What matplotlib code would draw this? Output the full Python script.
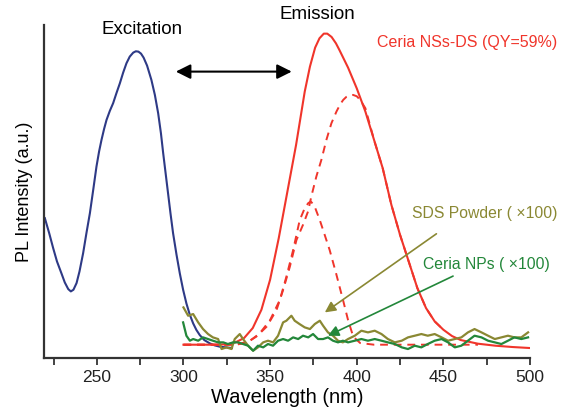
import matplotlib
matplotlib.use("Agg")
import matplotlib.pyplot as plt

plt.rcParams['font.family'] = ['Liberation Sans', 'DejaVu Sans']

# excitation spectrum (blue)
exc_wl = [220, 222.5, 224.8, 227, 229.6, 231.5, 233.5, 235, 236.5, 238.3, 240, 242.1,
          244, 246, 248, 249.8, 251.3, 252.7, 254.2, 255.6, 257.5, 259.4, 261.3, 263.3,
          265.2, 267.1, 269, 271, 272.5, 274, 275.5, 277, 279, 281.5, 283.5, 285.4,
          287, 288.3, 289.7, 291.1, 292.5, 294, 296, 297.9, 299.8, 301.7, 303.6,
          305.6, 307.5, 309.4, 312, 315.2, 318, 321, 324.5, 328]
exc_int = [0.42, 0.375, 0.33, 0.29, 0.254, 0.227, 0.207, 0.200, 0.205, 0.225, 0.26,
           0.315, 0.375, 0.435, 0.508, 0.575, 0.62, 0.655, 0.688, 0.715, 0.742, 0.765,
           0.795, 0.825, 0.857, 0.885, 0.905, 0.917, 0.921, 0.92, 0.914, 0.902, 0.878,
           0.835, 0.79, 0.735, 0.675, 0.615, 0.555, 0.495, 0.435, 0.375, 0.31, 0.254,
           0.205, 0.164, 0.131, 0.104, 0.084, 0.069, 0.054, 0.044, 0.038, 0.034, 0.032,
           0.03]

# emission of Ceria NSs-DS (solid red)
em_wl = [300, 310, 320, 326, 330, 335, 340, 345, 350, 355, 360, 365, 370, 373, 376, 378.5,
         381, 383, 385.5, 388, 390, 395, 400, 405, 410, 415, 420, 425, 430, 435, 440,
         445, 450, 455, 460, 470, 480, 490, 500]
em_int = [0.04, 0.04, 0.04, 0.042, 0.047, 0.06, 0.09, 0.145, 0.235, 0.36, 0.5, 0.64,
          0.8, 0.875, 0.932, 0.96, 0.974, 0.974, 0.964, 0.945, 0.925, 0.872, 0.81, 0.74,
          0.655, 0.57, 0.46, 0.37, 0.29, 0.21, 0.15, 0.11, 0.085, 0.066, 0.054, 0.043,
          0.037, 0.033, 0.03]

# fitted components (dashed red)
fit1_wl = [300, 330, 338, 344, 350, 355.6, 359.4, 363.3, 367.1, 370, 372, 373.5, 375.5,
           378.7, 381.5, 384.4, 388.1, 392.1, 395, 398, 402, 410, 440, 470]
fit1_int = [0.04, 0.04, 0.05, 0.074, 0.114, 0.174, 0.244, 0.324, 0.414, 0.45, 0.465,
            0.47, 0.458, 0.414, 0.37, 0.324, 0.254, 0.174, 0.114, 0.064, 0.045, 0.04,
            0.04, 0.04]
fit2_wl = [300, 330, 336, 342, 348, 353.7, 357.5, 361.4, 365.2, 369, 371.9, 373.8, 376.7,
           379.6, 382.5, 385.4, 388.3, 390.5, 392.2, 394, 396, 397.9, 400, 402, 405,
           410, 415, 420, 425, 430, 435, 440, 445, 450]
fit2_int = [0.04, 0.04, 0.045, 0.064, 0.094, 0.144, 0.204, 0.274, 0.354, 0.40, 0.44,
            0.485, 0.545, 0.595, 0.655, 0.705, 0.74, 0.762, 0.775, 0.784, 0.789, 0.79,
            0.786, 0.775, 0.75, 0.655, 0.57, 0.46, 0.37, 0.29, 0.21, 0.15, 0.11, 0.085]

# SDS powder (x100), olive
sds_wl = [300, 302.7, 305.6, 308.5, 311.3, 314.2, 317, 320, 322, 324.8, 327.7, 329.6,
          332.5, 334.4, 337.3, 340.2, 343, 346, 348.8, 351.7, 354.6, 357.5, 359.4, 362.3,
          364.2, 367, 370, 373, 375.8, 378.7, 380.6, 383.4, 386.3, 389.2, 392, 395,
          398.9, 402.7, 406.5, 410.4, 414.3, 418, 422, 426, 429.6, 433.5, 437.3, 441,
          445, 449, 452.7, 456.6, 460.4, 464.2, 468, 472, 475.8, 479.7, 483.5, 487.3,
          491, 495, 498.9]
sds_int = [0.152, 0.127, 0.132, 0.107, 0.087, 0.072, 0.062, 0.057, 0.027, 0.032, 0.027,
           0.057, 0.072, 0.057, 0.037, 0.022, 0.032, 0.047, 0.052, 0.047, 0.067, 0.107,
           0.112, 0.127, 0.112, 0.102, 0.092, 0.087, 0.102, 0.112, 0.097, 0.077, 0.067,
           0.052, 0.047, 0.057, 0.067, 0.082, 0.077, 0.082, 0.072, 0.057, 0.047, 0.052,
           0.062, 0.067, 0.072, 0.067, 0.072, 0.062, 0.052, 0.057, 0.062, 0.077, 0.087,
           0.077, 0.067, 0.057, 0.062, 0.067, 0.062, 0.062, 0.077]

# Ceria NPs (x100), green
nps_wl = [299.8, 301.7, 303.7, 305.6, 308.5, 311.3, 314.2, 317, 320, 323, 325.7, 328.6,
          331.5, 334.4, 337.3, 340.2, 343, 346, 348.8, 351.7, 354.6, 357.5, 360.4, 363.3,
          366.2, 369, 372, 374.8, 377.7, 380.6, 383.4, 386.3, 389.2, 392, 395, 398.9,
          402.7, 406.5, 410.4, 414.3, 418, 422, 426, 429.6, 433.5, 437.3, 441, 445, 449,
          452.7, 456.6, 460.4, 464.2, 468, 472, 475.8, 479.7, 483.5, 487.3, 491, 495, 498.9]
nps_int = [0.107, 0.067, 0.052, 0.057, 0.052, 0.062, 0.057, 0.052, 0.047, 0.047, 0.042,
           0.047, 0.047, 0.042, 0.037, 0.022, 0.037, 0.032, 0.042, 0.037, 0.052, 0.057,
           0.052, 0.062, 0.057, 0.067, 0.062, 0.072, 0.057, 0.057, 0.062, 0.052, 0.047,
           0.052, 0.047, 0.052, 0.057, 0.052, 0.057, 0.052, 0.047, 0.042, 0.032, 0.027,
           0.037, 0.032, 0.042, 0.052, 0.057, 0.047, 0.032, 0.037, 0.052, 0.067, 0.062,
           0.052, 0.047, 0.042, 0.052, 0.062, 0.057, 0.062]

BLUE = '#2e3a86'
RED = '#f0352b'
OLIVE = '#8a8833'
GREEN = '#23873a'

fig = plt.figure(figsize=(5.61, 4.15), dpi=100)
ax = fig.add_axes([0.0784, 0.1373, 0.8663, 0.8025])

ax.plot(exc_wl, exc_int, color=BLUE, lw=1.5)
ax.plot(fit1_wl, fit1_int, color=RED, lw=1.4, ls=(0, (4, 3)))
ax.plot(fit2_wl, fit2_int, color=RED, lw=1.4, ls=(0, (4, 3)))
ax.plot(em_wl, em_int, color=RED, lw=1.5)
ax.plot(sds_wl, sds_int, color=OLIVE, lw=1.6)
ax.plot(nps_wl, nps_int, color=GREEN, lw=1.6)

ax.set_xlim(219.5, 500)
ax.set_ylim(0, 1)

# double arrow between excitation and emission
ax.annotate('', xy=(362.5, 0.86), xytext=(295.6, 0.86),
            arrowprops=dict(arrowstyle='<|-|>', color='black', lw=1.5,
                            mutation_scale=22, shrinkA=0, shrinkB=0))
ax.annotate('', xy=(381.6, 0.137), xytext=(446, 0.373),
            arrowprops=dict(arrowstyle='-|>', color=OLIVE, lw=1.2,
                            mutation_scale=16, shrinkA=0, shrinkB=0))
ax.annotate('', xy=(383.4, 0.067), xytext=(455.6, 0.246),
            arrowprops=dict(arrowstyle='-|>', color=GREEN, lw=1.2,
                            mutation_scale=16, shrinkA=0, shrinkB=0))

ax.text(276, 0.985, 'Excitation', ha='center', va='center', fontsize=13.5)
ax.text(377.5, 1.03, 'Emission', ha='center', va='center', fontsize=13.5, clip_on=False)
ax.text(411.6, 0.946, 'Ceria NSs-DS (QY=59%)', color=RED, ha='left', va='center', fontsize=11.5)
ax.text(432, 0.434, 'SDS Powder ( \u00d7100)', color=OLIVE, ha='left', va='center', fontsize=11.3)
ax.text(438, 0.28, 'Ceria NPs ( \u00d7100)', color=GREEN, ha='left', va='center', fontsize=11.3)

ax.set_xlabel('Wavelength (nm)', fontsize=14.5, labelpad=2)
ax.set_ylabel('PL Intensity (a.u.)', fontsize=13, labelpad=8)

ax.set_xticks([250, 300, 350, 400, 450, 500])
ax.set_xticks([225, 275, 325, 375, 425, 475], minor=True)
ax.set_yticks([])
ax.tick_params(axis='x', which='both', direction='out', length=5, width=1.2,
               labelsize=12.5, colors='#222222')
for side in ['top', 'right']:
    ax.spines[side].set_visible(False)
for side in ['left', 'bottom']:
    ax.spines[side].set_linewidth(1.6)
    ax.spines[side].set_color('#333333')

fig.savefig('out.png', dpi=100)
